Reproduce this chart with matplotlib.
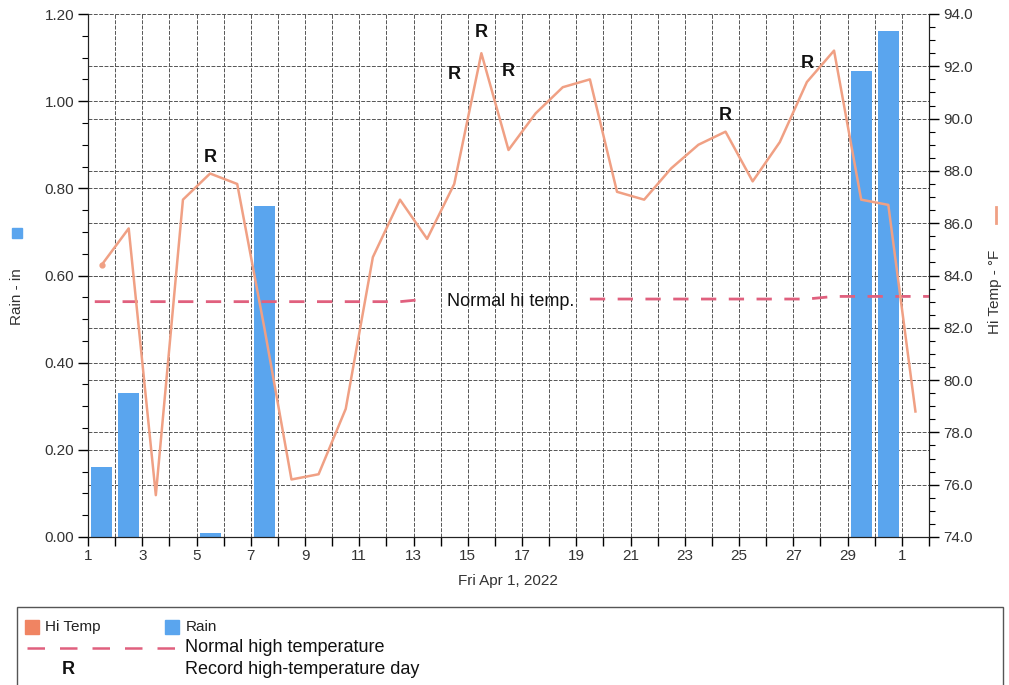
import numpy as np
import matplotlib.pyplot as plt
from matplotlib.patches import Rectangle
from matplotlib.lines import Line2D

plt.rcParams['font.family'] = ['Liberation Sans', 'DejaVu Sans']

# days of April 2022 plus May 1
days = np.arange(1, 32)
day_labels = [str(d) for d in range(1, 31)] + ["1"]

rain = [0.16, 0.33, 0, 0, 0.01, 0, 0.76, 0, 0, 0,
        0, 0, 0, 0, 0, 0, 0, 0, 0, 0,
        0, 0, 0, 0, 0, 0, 0, 0, 1.07, 1.16, 0]

hi_temp = [84.4, 85.8, 75.6, 86.9, 87.9, 87.5, 82.0, 76.2, 76.4, 78.9,
           84.7, 86.9, 85.4, 87.5, 92.5, 88.8, 90.2, 91.2, 91.5, 87.2,
           86.9, 88.1, 89.0, 89.5, 87.6, 89.1, 91.4, 92.6, 86.9, 86.7, 78.8]

normal_hi = [83.0, 83.0, 83.0, 83.0, 83.0, 83.0, 83.0, 83.0, 83.0, 83.0,
             83.0, 83.0, 83.1, np.nan, np.nan, np.nan, np.nan, np.nan, 83.1, 83.1,
             83.1, 83.1, 83.1, 83.1, 83.1, 83.1, 83.1, 83.2, 83.2, 83.2, 83.2]

record_days = [5, 14, 15, 16, 24, 27]
record_label_t = [88.5, 91.7, 93.3, 91.8, 90.1, 92.1]

W, H = 1009, 685
fig = plt.figure(figsize=(W / 100, H / 100), dpi=100)
ax = fig.add_axes([88 / W, 1 - 537 / H, (929 - 88) / W, (537 - 14) / H])
ax2 = ax.twinx()

t_min, t_max = 74.0, 94.0
r_max = 1.2

def t2r(t):
    return (t - t_min) / (t_max - t_min) * r_max

# grid, drawn under the bars
gcol = "#555555"
for d in range(2, 32):
    ax.axvline(d, color=gcol, lw=0.7, ls=(0, (4, 1.5)), zorder=0.5)
for r in np.arange(0.2, 1.21, 0.2):
    ax.axhline(r, color=gcol, lw=0.7, ls=(0, (4, 1.5)), zorder=0.5)
for t in np.arange(76, 94, 2):
    ax.axhline(t2r(t), color=gcol, lw=0.7, ls=(0, (4, 1.5)), zorder=0.5)

x = days + 0.5
ax.bar(x, rain, width=0.78, color="#5aa5ee", zorder=1)

ax2.plot(np.concatenate([[1.25], x, [32]]), np.concatenate([[normal_hi[0]], normal_hi, [normal_hi[-1]]]),
         color="#e0607e", lw=2, dashes=(5.5, 4.5), zorder=2)
ax2.text(14.25, 83.0, "Normal hi temp.", fontsize=13, va="center", ha="left", color="#111111")
ax2.plot(x, hi_temp, color="#f0a084", lw=1.8, marker="o", ms=3.5, markevery=[0], zorder=3)

for d, t in zip(record_days, record_label_t):
    ax2.text(d + 0.5, t, "R", fontsize=13, fontweight="bold", ha="center", va="center", color="#111111")

ax.set_xlim(1, 32)
ax.set_ylim(0, r_max)
ax2.set_ylim(t_min, t_max)

ax.set_xticks(np.arange(1, 33))
ax.set_xticklabels([day_labels[i] if i % 2 == 0 and i < 31 else "" for i in range(32)])
ax.set_yticks(np.arange(0, 1.21, 0.2))
ax.set_yticklabels(["%.2f" % v for v in np.arange(0, 1.21, 0.2)])
ax.set_yticks(np.arange(0, 1.21, 0.05), minor=True)
ax2.set_yticks(np.arange(74, 94.1, 2))
ax2.set_yticklabels(["%.1f" % v for v in np.arange(74, 94.1, 2)])
ax2.set_yticks(np.arange(74, 94.1, 0.5), minor=True)

for a in (ax, ax2):
    a.tick_params(which="major", length=7, width=1, labelsize=11, labelcolor="#333333", pad=3)
    a.tick_params(which="minor", length=4, width=0.8)
    a.spines["top"].set_visible(False)
    for s in ("left", "right", "bottom"):
        a.spines[s].set_color("#222222")
ax.tick_params(axis="x", length=6.5, pad=2)

fig.text(508 / W, 1 - 581 / H, "Fri Apr 1, 2022", fontsize=11, ha="center", va="center", color="#333333")
fig.text(17 / W, 1 - 297 / H, "Rain - in", fontsize=11, rotation=90, ha="center", va="center", color="#333333")
fig.add_artist(Rectangle((12 / W, 1 - 238 / H), 10 / W, 10 / H, transform=fig.transFigure,
                         color="#5aa5ee"))
fig.text(995 / W, 1 - 292 / H, "Hi Temp - \u00b0F", fontsize=11, rotation=90, ha="center", va="center", color="#333333")
fig.add_artist(Line2D([996 / W, 996 / W], [1 - 207 / H, 1 - 223 / H], transform=fig.transFigure,
                      color="#f0a084", lw=2))

# legend box
fig.add_artist(Rectangle((17 / W, -0.02), (1003 - 17) / W, 0.02 + 1 - 607 / H, transform=fig.transFigure,
                         fill=False, edgecolor="#555555", lw=1))
fig.add_artist(Rectangle((25 / W, 1 - 634 / H), 14 / W, 14 / H, transform=fig.transFigure, color="#f08462"))
fig.text(45 / W, 1 - 627 / H, "Hi Temp", fontsize=11, va="center", color="#222222")
fig.add_artist(Rectangle((165 / W, 1 - 634 / H), 14 / W, 14 / H, transform=fig.transFigure, color="#5aa5ee"))
fig.text(186 / W, 1 - 627 / H, "Rain", fontsize=11, va="center", color="#222222")
fig.add_artist(Line2D([27 / W, 180 / W], [1 - 648 / H, 1 - 648 / H], transform=fig.transFigure,
                      color="#e0607e", lw=1.8, dashes=(7, 6)))
fig.text(185 / W, 1 - 648 / H, "Normal high temperature", fontsize=13, va="center", color="#111111")
fig.text(68 / W, 1 - 669 / H, "R", fontsize=13, fontweight="bold", ha="center", va="center", color="#111111")
fig.text(185 / W, 1 - 669 / H, "Record high-temperature day", fontsize=13, va="center", color="#111111")

fig.savefig("out.png", dpi=100)
